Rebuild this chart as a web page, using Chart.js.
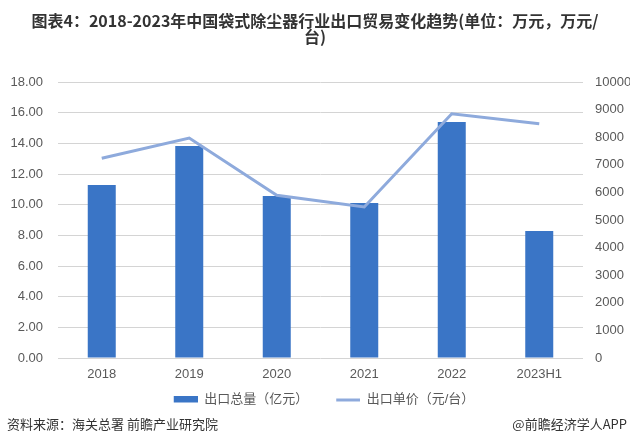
<!DOCTYPE html>
<html>
<head>
<meta charset="utf-8">
<script src="https://cdn.jsdelivr.net/npm/chart.js@4.4.1/dist/chart.umd.min.js"></script>
<style>
  html, body { margin: 0; padding: 0; background: #fff; }
  #wrap { position: relative; width: 630px; height: 448px; }
</style>
</head>
<body>
<div id="wrap"><canvas id="chart" width="630" height="448"></canvas></div>
<script>
const years = ['2018', '2019', '2020', '2021', '2022', '2023H1'];
const exportTotal = [11.28, 13.83, 10.57, 10.11, 15.39, 8.28]; // 亿元
const exportUnitPrice = [7236, 7971, 5895, 5471, 8851, 8489]; // 元/台
const titleLines = ['图表4：2018-2023年中国袋式除尘器行业出口贸易变化趋势(单位：万元，万元/', '台)'];
const seriesNames = ['出口总量（亿元）', '出口单价（元/台）'];
const sourceText = '资料来源：海关总署 前瞻产业研究院';
const appText = '@前瞻经济学人APP';

const barColor = '#3a75c6';
const lineColor = '#8eaadc';
const fontFamily = "'Liberation Sans', 'Noto Sans CJK SC', sans-serif";

// legend icons: 18px empty lead gives the wider gap between the two items
const makeIcon = (draw) => {
  const c = document.createElement('canvas');
  c.width = 42;
  c.height = 8;
  draw(c.getContext('2d'));
  return c;
};
const barIcon = makeIcon((g) => { g.fillStyle = barColor; g.fillRect(18, 0, 24, 7); });
const lineIcon = makeIcon((g) => { g.fillStyle = lineColor; g.fillRect(18, 3, 24, 3); });

const footer = {
  id: 'footer',
  afterDraw(chart) {
    const ctx = chart.ctx;
    ctx.save();
    ctx.font = "13px 'Noto Sans CJK SC', sans-serif";
    ctx.fillStyle = '#333';
    ctx.textBaseline = 'middle';
    ctx.textAlign = 'left';
    ctx.fillText(sourceText, 7, 424);
    ctx.textAlign = 'right';
    ctx.fillText(appText, 627, 424);
    ctx.restore();
  },
};

const ctx = document.getElementById('chart');
const chart = new Chart(ctx, {
  type: 'bar',
  data: {
    labels: years,
    datasets: [
      {
        type: 'line',
        label: seriesNames[1],
        data: exportUnitPrice,
        yAxisID: 'y1',
        borderColor: lineColor,
        backgroundColor: lineColor,
        borderWidth: 3,
        pointRadius: 0,
        tension: 0,
        order: 0,
      },
      {
        type: 'bar',
        label: seriesNames[0],
        data: exportTotal,
        yAxisID: 'y',
        backgroundColor: barColor,
        barPercentage: 0.32,
        categoryPercentage: 1,
        order: 1,
      },
    ],
  },
  options: {
    responsive: false,
    animation: false,
    layout: { padding: { top: 4, bottom: 32, left: 0, right: 0 } },
    plugins: {
      title: {
        display: true,
        text: titleLines,
        color: '#333',
        font: { family: "'Noto Sans CJK SC', sans-serif", size: 16, weight: 'bold', lineHeight: 1.0 },
        padding: { top: 9, bottom: 37 },
      },
      legend: {
        position: 'bottom',
        reverse: true,
        labels: {
          usePointStyle: true,
          pointStyleWidth: 42,
          boxHeight: 8,
          padding: 10,
          color: '#595959',
          font: { family: fontFamily, size: 13 },
          generateLabels(c) {
            const items = Chart.defaults.plugins.legend.labels.generateLabels(c);
            items.forEach((it) => {
              it.pointStyle = it.datasetIndex === 0 ? lineIcon : barIcon;
            });
            return items;
          },
        },
      },
      tooltip: { enabled: false },
    },
    scales: {
      x: {
        afterFit(s) { s.height = 25; },
        grid: { display: false },
        border: { display: false },
        ticks: { color: '#595959', font: { family: fontFamily, size: 13 }, padding: 1, maxRotation: 0 },
      },
      y: {
        position: 'left',
        min: 0,
        max: 18,
        afterFit(s) { s.width = 58; },
        grid: { color: '#d4d4d4', drawTicks: false },
        border: { display: false },
        ticks: {
          stepSize: 2,
          padding: 15,
          color: '#595959',
          font: { family: fontFamily, size: 13 },
          callback: (v) => v.toFixed(2),
        },
      },
      y1: {
        position: 'right',
        min: 0,
        max: 10000,
        afterFit(s) { s.width = 47; },
        grid: { display: false, drawTicks: false },
        border: { display: false },
        ticks: {
          stepSize: 1000,
          padding: 12,
          color: '#595959',
          font: { family: fontFamily, size: 13 },
          callback: (v) => String(v),
        },
      },
    },
  },
  plugins: [footer],
});
</script>
</body>
</html>
